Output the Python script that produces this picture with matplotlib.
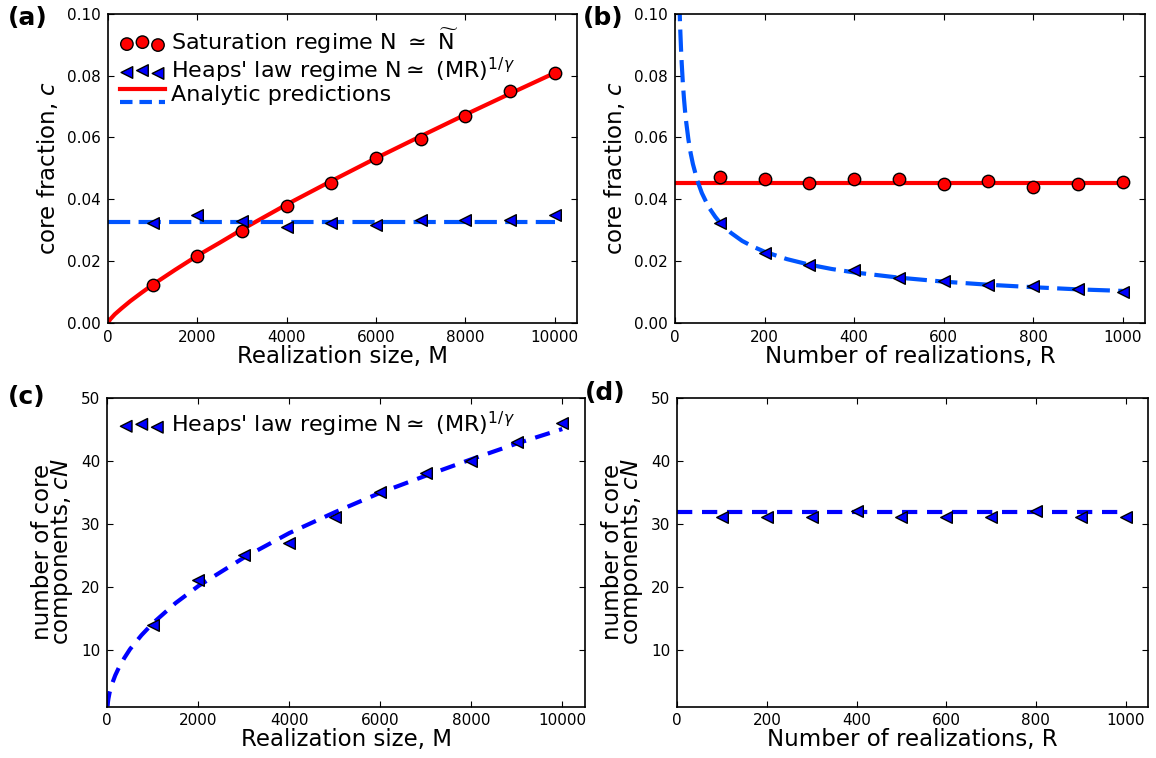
"""
Core fraction and core size vs realization size M and number of realizations R.
Four panels (a)-(d), classic matplotlib look.
"""
import matplotlib
matplotlib.use("Agg")
import matplotlib.pyplot as plt
from matplotlib.legend_handler import HandlerBase
from matplotlib.lines import Line2D

plt.rcParams['font.family'] = ['DejaVu Sans']
plt.rcParams['mathtext.fontset'] = 'dejavusans'
plt.rcParams['lines.scale_dashes'] = False
plt.rcParams['xtick.direction'] = 'in'
plt.rcParams['ytick.direction'] = 'in'
plt.rcParams['xtick.top'] = True
plt.rcParams['ytick.right'] = True
plt.rcParams['xtick.major.size'] = 4
plt.rcParams['ytick.major.size'] = 4
plt.rcParams['axes.linewidth'] = 1.2

RED = '#ff0000'
BLUE_LINE = '#0055ff'
BLUE_LINE2 = '#0000ff'
BLUE_MARK = '#0000ff'

# --- podatki ---
# (a) c vs M
M = [1000, 2000, 3000, 4000, 5000, 6000, 7000, 8000, 9000, 10000]
sat_c_M = [0.0123, 0.0216, 0.0296, 0.0379, 0.0451, 0.0532, 0.0594, 0.0668, 0.0750, 0.0810]
heaps_c_M = [0.0322, 0.0348, 0.0328, 0.0309, 0.0322, 0.0316, 0.0334, 0.0332, 0.0332, 0.0349]
sat_curve_M = [0, 50, 150, 300, 500, 750, 1000, 1500, 2000, 2500, 3000,
               4000, 5000, 6000, 7000, 8000, 9000, 10000]
sat_curve_c = [0.0, 0.0011, 0.0027, 0.0046, 0.0070, 0.0097, 0.0123, 0.0171, 0.0217,
               0.0259, 0.0302, 0.0383, 0.0459, 0.0533, 0.0604, 0.0674, 0.0742, 0.0809]
heaps_line_M = [0, 10000]
heaps_line_c = [0.0325, 0.0325]

# (b) c vs R
R = [100, 200, 300, 400, 500, 600, 700, 800, 900, 1000]
sat_c_R = [0.0471, 0.0467, 0.0452, 0.0464, 0.0464, 0.0449, 0.0460, 0.0439, 0.0449, 0.0457]
heaps_c_R = [0.0324, 0.0227, 0.0187, 0.0171, 0.0146, 0.0135, 0.0123, 0.0118, 0.0108, 0.0100]
sat_line_R = [0, 1000]
sat_line_c = [0.0453, 0.0453]
heaps_curve_R = [8, 9, 10, 11, 12, 13.5, 15, 17.5, 20, 22.5, 25, 30, 35, 40, 50, 60,
                 75, 90, 100, 125, 150, 175, 200, 250, 300, 350, 400, 500, 600,
                 700, 800, 900, 1000]
heaps_curve_c = [0.115, 0.108, 0.103, 0.098, 0.094, 0.0885, 0.084, 0.0777, 0.0727,
                 0.0685, 0.065, 0.0593, 0.0549, 0.0514, 0.046, 0.042, 0.0375, 0.0343,
                 0.0325, 0.0291, 0.0265, 0.0246, 0.023, 0.0206, 0.0188, 0.0174,
                 0.0163, 0.0146, 0.0133, 0.0123, 0.0115, 0.0108, 0.0103]

# (c) cN vs M
heaps_cN_M = [14, 21, 25, 27, 31, 35, 38, 40, 43, 46]
heaps_curve_cN_M = [5, 15, 25, 50, 100, 175, 250, 375, 500, 750, 1000, 1500, 2000,
                    3000, 4000, 5000, 6000, 7000, 8000, 9000, 10000]
heaps_curve_cN = [1.0, 1.75, 2.25, 3.2, 4.5, 5.95, 7.1, 8.7, 10.1, 12.3, 14.2, 17.4,
                  20.1, 24.6, 28.5, 31.8, 34.9, 37.6, 40.2, 42.7, 45.0]

# (d) cN vs R
heaps_cN_R = [31, 31, 31, 32, 31, 31, 31, 32, 31, 31]
heaps_line_R = [0, 1000]
heaps_line_cN = [31.8, 31.8]

LBL_SAT = r'Saturation regime N $\simeq$ $\widetilde{\mathrm{N}}$'
LBL_HEAPS = r"Heaps' law regime N$\simeq$ (MR)$^{\mathit{1/\gamma}}$"
FS_LABEL = 16.5
FS_LEG = 16


class TwoLines(HandlerBase):
    """Legend handle: red line above, blue dashed below."""
    def create_artists(self, legend, orig_handle, xdescent, ydescent,
                       width, height, fontsize, trans):
        x0, x1 = -xdescent, -xdescent + width
        l1 = Line2D([x0, x1], [0.75 * height - ydescent] * 2, color=RED, lw=3,
                    transform=trans)
        l2 = Line2D([x0, x1], [-0.05 * height - ydescent] * 2, color=BLUE_LINE,
                    lw=3, dashes=(9, 5), transform=trans)
        return [l1, l2]


W, H = 1156, 758
fig = plt.figure(figsize=(W / 100, H / 100), dpi=100)


def px_axes(x0, y0, x1, y1):
    return fig.add_axes([x0 / W, (H - y1) / H, (x1 - x0) / W, (y1 - y0) / H])


ax_a = px_axes(108, 14, 577, 322.7)
ax_b = px_axes(675, 14, 1145, 322.7)
ax_c = px_axes(107.3, 397.5, 585, 706.5)
ax_d = px_axes(677.2, 397.5, 1148, 706.5)

S_CIRC = 80
S_TRI = 70

# (a)
ax_a.plot(sat_curve_M, sat_curve_c, color=RED, lw=3, zorder=2)
ax_a.plot(heaps_line_M, heaps_line_c, color=BLUE_LINE, lw=3, dashes=(16, 6), zorder=2)
sc1 = ax_a.scatter(M, sat_c_M, s=S_CIRC, marker='o', facecolor=RED,
                   edgecolor='black', linewidth=1, zorder=3)
sc2 = ax_a.scatter(M, heaps_c_M, s=S_TRI, marker='<', facecolor=BLUE_MARK,
                   edgecolor='black', linewidth=1, zorder=3)
proxy = Line2D([], [], color=RED)
ax_a.legend([sc1, sc2, proxy], [LBL_SAT, LBL_HEAPS, 'Analytic predictions'],
            handler_map={proxy: TwoLines()}, loc='upper left', frameon=False,
            scatterpoints=3, fontsize=FS_LEG, handlelength=2.0, handletextpad=0.3,
            labelspacing=0.0, borderaxespad=0.15)
ax_a.set_xlim(0, 10500)
ax_a.set_ylim(0, 0.10)
ax_a.set_xticks([0, 2000, 4000, 6000, 8000, 10000])
ax_a.set_yticks([0.0, 0.02, 0.04, 0.06, 0.08, 0.10])
ax_a.set_yticklabels(['0.00', '0.02', '0.04', '0.06', '0.08', '0.10'])
ax_a.set_xlabel('Realization size, M', fontsize=FS_LABEL, labelpad=0)
ax_a.set_ylabel('core fraction, $c$', fontsize=FS_LABEL, labelpad=5)

# (b)
ax_b.plot(sat_line_R, sat_line_c, color=RED, lw=3, zorder=2)
ax_b.plot(heaps_curve_R, heaps_curve_c, color=BLUE_LINE, lw=3, dashes=(16, 6), zorder=2)
ax_b.scatter(R, sat_c_R, s=S_CIRC, marker='o', facecolor=RED,
             edgecolor='black', linewidth=1, zorder=3)
ax_b.scatter(R, heaps_c_R, s=S_TRI, marker='<', facecolor=BLUE_MARK,
             edgecolor='black', linewidth=1, zorder=3)
ax_b.set_xlim(0, 1050)
ax_b.set_ylim(0, 0.10)
ax_b.set_xticks([0, 200, 400, 600, 800, 1000])
ax_b.set_yticks([0.0, 0.02, 0.04, 0.06, 0.08, 0.10])
ax_b.set_yticklabels(['0.00', '0.02', '0.04', '0.06', '0.08', '0.10'])
ax_b.set_xlabel('Number of realizations, R', fontsize=FS_LABEL, labelpad=0)
ax_b.set_ylabel('core fraction, $c$', fontsize=FS_LABEL, labelpad=5)

# (c)
ax_c.plot(heaps_curve_cN_M, heaps_curve_cN, color=BLUE_LINE2, lw=3, dashes=(11, 7), zorder=2)
sc3 = ax_c.scatter(M, heaps_cN_M, s=S_TRI, marker='<', facecolor=BLUE_MARK,
                   edgecolor='black', linewidth=1, zorder=3)
ax_c.legend([sc3], [LBL_HEAPS], loc='upper left', frameon=False, scatterpoints=3,
            fontsize=FS_LEG, handlelength=2.0, handletextpad=0.3, borderaxespad=0.15)
ax_c.set_xlim(0, 10500)
ax_c.set_ylim(1, 50)
ax_c.set_xticks([0, 2000, 4000, 6000, 8000, 10000])
ax_c.set_yticks([10, 20, 30, 40, 50])
ax_c.set_xlabel('Realization size, M', fontsize=FS_LABEL, labelpad=0)
ax_c.set_ylabel('number of core\ncomponents, $cN$', fontsize=FS_LABEL,
                linespacing=0.75, labelpad=4)

# (d)
ax_d.plot(heaps_line_R, heaps_line_cN, color=BLUE_LINE2, lw=3, dashes=(11, 7), zorder=2)
ax_d.scatter(R, heaps_cN_R, s=S_TRI, marker='<', facecolor=BLUE_MARK,
             edgecolor='black', linewidth=1, zorder=3)
ax_d.set_xlim(0, 1050)
ax_d.set_ylim(1, 50)
ax_d.set_xticks([0, 200, 400, 600, 800, 1000])
ax_d.set_yticks([10, 20, 30, 40, 50])
ax_d.set_xlabel('Number of realizations, R', fontsize=FS_LABEL, labelpad=0)
ax_d.set_ylabel('number of core\ncomponents, $cN$', fontsize=FS_LABEL,
                linespacing=0.75, labelpad=4)

for ax in (ax_a, ax_b, ax_c, ax_d):
    ax.tick_params(labelsize=11, pad=5)

# oznake panelov
for txt, x, y in [('(a)', 8, 18), ('(b)', 583, 18), ('(c)', 8, 397), ('(d)', 585, 393)]:
    fig.text(x / W, 1 - y / H, txt, fontsize=18, fontweight='bold',
             ha='left', va='center')

fig.savefig('out.png', dpi=100)
